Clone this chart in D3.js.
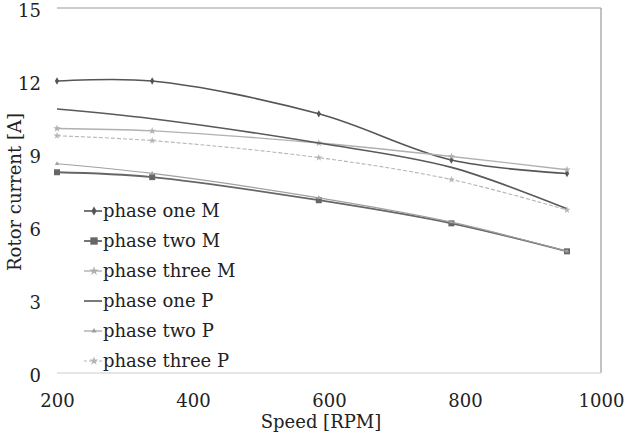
<!DOCTYPE html>
<html>
<head>
<meta charset="utf-8">
<script src="https://cdn.jsdelivr.net/npm/d3@7"></script>
<style>
body { margin: 0; background: #fff; }
svg text { font-family: "DejaVu Serif", serif; }
</style>
</head>
<body>
<div id="chart"></div>
<script>
// speeds [RPM] and rotor currents [A]
var speeds = [200, 340, 585, 780, 950];
var phaseOneM = [12.0, 12.0, 10.65, 8.75, 8.2];
var phaseTwoM = [8.25, 8.05, 7.1, 6.15, 5.0];
var phaseThreeM = [10.05, 9.95, 9.45, 8.9, 8.35];
var phaseOneP = [10.85, 10.45, 9.45, 8.45, 6.75];
var phaseTwoP = [8.6, 8.2, 7.2, 6.2, 5.0];
var phaseThreeP = [9.75, 9.55, 8.85, 7.95, 6.7];
var xTicks = [200, 400, 600, 800, 1000];
var yTicks = [0, 3, 6, 9, 12, 15];
var names = ["phase one M", "phase two M", "phase three M", "phase one P", "phase two P", "phase three P"];

var width = 625, height = 434;
var margin = { top: 8, right: 24, bottom: 61, left: 57 };

var series = [
  { name: names[0], values: phaseOneM, color: "#555", width: 1.6, marker: d3.symbolDiamond, size: 16, dash: null },
  { name: names[1], values: phaseTwoM, color: "#666", width: 1.8, marker: d3.symbolSquare, size: 36, dash: null },
  { name: names[2], values: phaseThreeM, color: "#b0b0b0", width: 1.4, marker: d3.symbolStar, size: 18, dash: null },
  { name: names[3], values: phaseOneP, color: "#595959", width: 1.6, marker: null, size: 0, dash: null },
  { name: names[4], values: phaseTwoP, color: "#a0a0a0", width: 1.2, marker: d3.symbolTriangle, size: 8, dash: null },
  { name: names[5], values: phaseThreeP, color: "#b5b5b5", width: 1.1, marker: d3.symbolStar, size: 16, dash: "4,2" }
];

var svg = d3.select("#chart").append("svg")
  .attr("width", width)
  .attr("height", height);

var x = d3.scaleLinear().domain([200, 1000]).range([margin.left, width - margin.right]);
var y = d3.scaleLinear().domain([0, 15]).range([height - margin.bottom, margin.top]);

// frame: top, right, bottom
svg.append("line").attr("x1", x(200)).attr("x2", x(1000)).attr("y1", y(15)).attr("y2", y(15))
  .attr("stroke", "#999").attr("stroke-width", 1.2);
svg.append("line").attr("x1", x(1000)).attr("x2", x(1000)).attr("y1", y(15)).attr("y2", y(0))
  .attr("stroke", "#999").attr("stroke-width", 1.2);
svg.append("line").attr("x1", x(200)).attr("x2", x(1000)).attr("y1", y(0)).attr("y2", y(0))
  .attr("stroke", "#ddd").attr("stroke-width", 1.5);

var xAxis = svg.append("g")
  .attr("transform", "translate(0," + (height - margin.bottom) + ")")
  .call(d3.axisBottom(x).tickValues(xTicks).tickSize(0).tickPadding(21).tickFormat(d3.format("d")))
  .attr("font-size", 18);
xAxis.select(".domain").remove();
xAxis.selectAll("text").attr("fill", "#222");

var yAxis = svg.append("g")
  .attr("transform", "translate(" + margin.left + ",0)")
  .call(d3.axisLeft(y).tickValues(yTicks).tickSize(0).tickPadding(16).tickFormat(d3.format("d")))
  .attr("font-size", 18);
yAxis.select(".domain").remove();
yAxis.selectAll("text").attr("fill", "#222").attr("dy", "0.45em");

svg.append("text")
  .attr("x", 321).attr("y", 428)
  .attr("text-anchor", "middle")
  .attr("font-size", 18)
  .attr("fill", "#222")
  .text("Speed [RPM]");

svg.append("text")
  .attr("transform", "translate(21,192) rotate(-90)")
  .attr("text-anchor", "middle")
  .attr("font-size", 18)
  .attr("fill", "#222")
  .text("Rotor current [A]");

var line = d3.line()
  .x(function (d) { return x(d[0]); })
  .y(function (d) { return y(d[1]); })
  .curve(d3.curveCatmullRom.alpha(0.5));

series.forEach(function (s) {
  var pts = speeds.map(function (v, i) { return [v, s.values[i]]; });
  svg.append("path")
    .datum(pts)
    .attr("fill", "none")
    .attr("stroke", s.color)
    .attr("stroke-width", s.width)
    .attr("stroke-dasharray", s.dash)
    .attr("d", line);
  if (s.marker) {
    svg.selectAll(null)
      .data(pts)
      .enter().append("path")
      .attr("transform", function (d) { return "translate(" + x(d[0]) + "," + y(d[1]) + ")"; })
      .attr("d", d3.symbol().type(s.marker).size(s.size))
      .attr("fill", s.color);
  }
});

// legend
var legend = svg.append("g").attr("transform", "translate(84,211)");
series.forEach(function (s, i) {
  var g = legend.append("g").attr("transform", "translate(0," + i * 30 + ")");
  g.append("line").attr("x1", 0).attr("x2", 18).attr("y1", 0).attr("y2", 0)
    .attr("stroke", s.color).attr("stroke-width", s.width)
    .attr("stroke-dasharray", s.dash ? "3,2" : null);
  if (s.marker) {
    g.append("path")
      .attr("transform", "translate(10,0)")
      .attr("d", d3.symbol().type(s.marker).size(s.size * 1.5))
      .attr("fill", s.color);
  }
  g.append("text")
    .attr("x", 19).attr("y", 6)
    .attr("font-size", 18)
    .attr("fill", "#222")
    .text(s.name);
});
</script>
</body>
</html>
